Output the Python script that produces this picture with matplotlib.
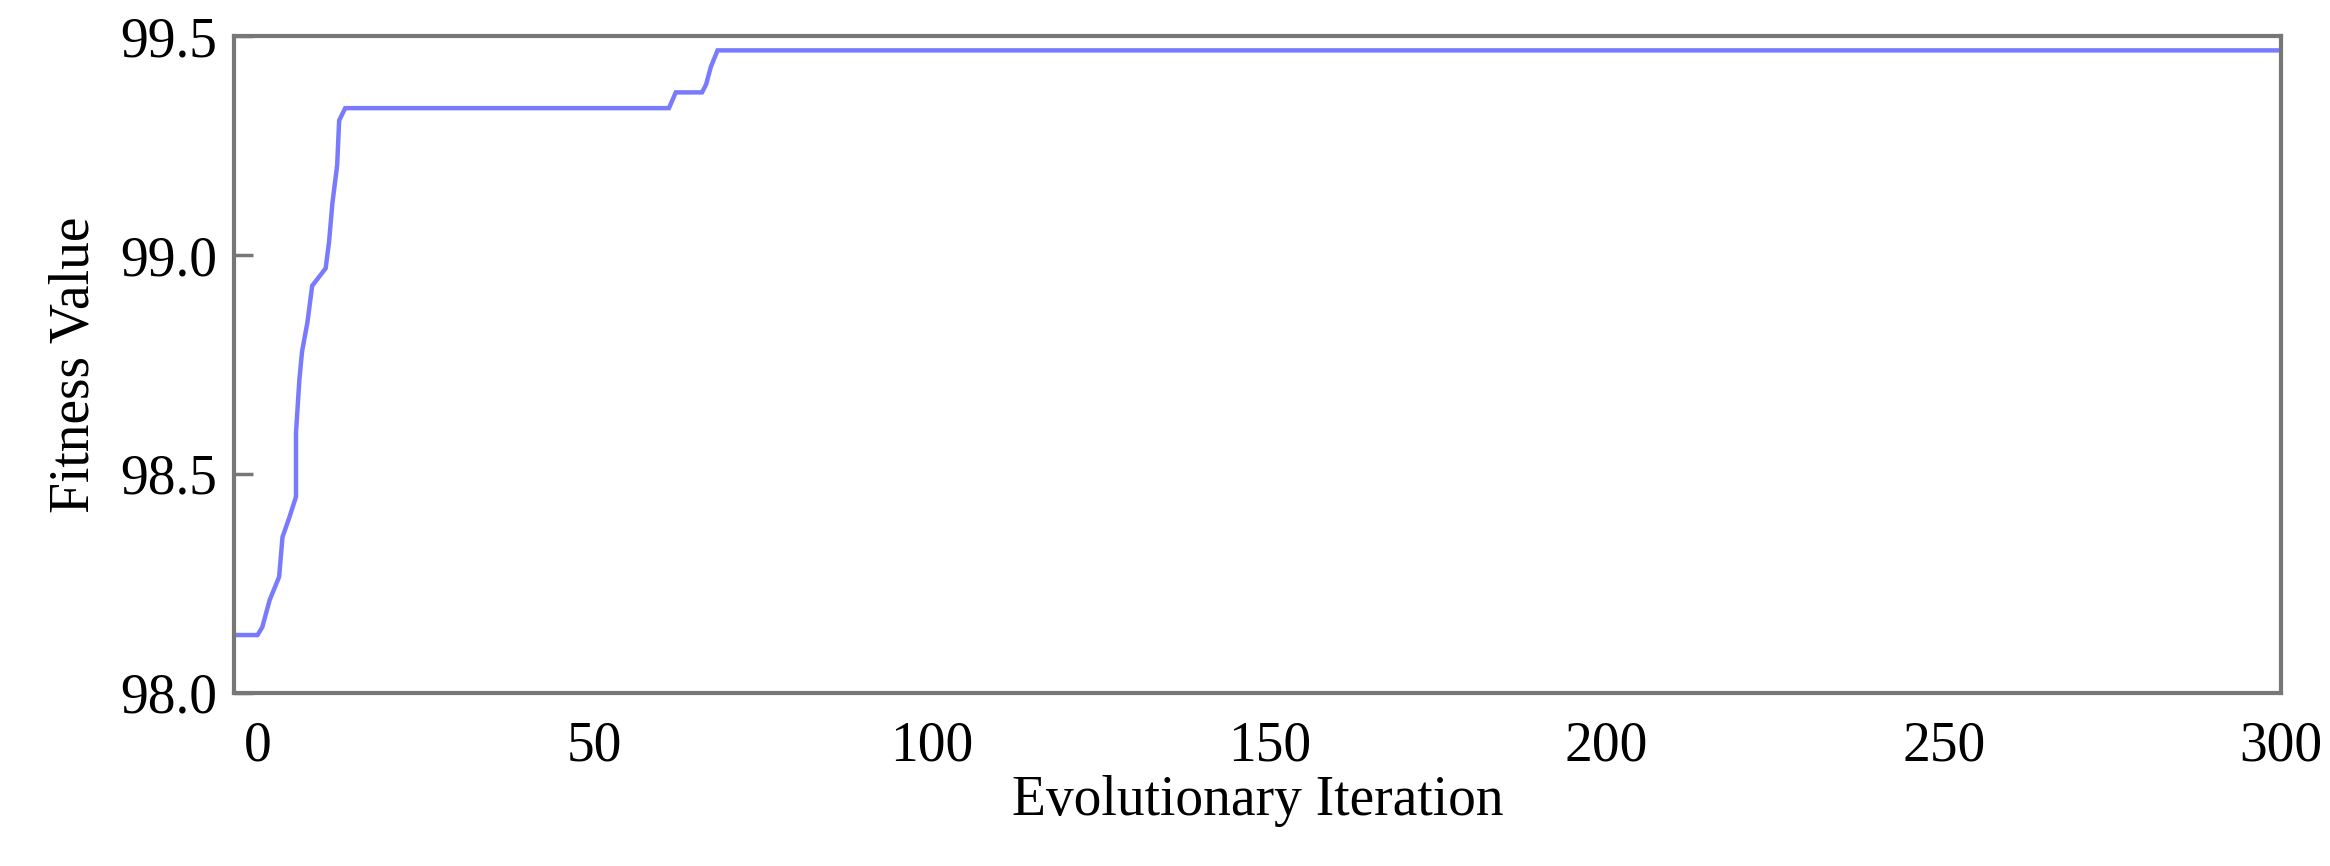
import matplotlib
matplotlib.use("Agg")
import matplotlib.pyplot as plt

# best fitness per iteration (step points)
iteration = [-3.5, 0.0, 0.7, 1.8, 3.2, 3.7, 4.7, 5.7, 5.7, 6.2, 6.6, 7.4, 8.1,
             10.1, 10.6, 11.1, 11.8, 12.1, 13.0, 61.0, 62.0, 65.9, 66.5, 67.2,
             68.2, 300.0]
fitness = [98.132, 98.132, 98.15, 98.212, 98.265, 98.356, 98.40, 98.448, 98.594,
           98.715, 98.78, 98.847, 98.93, 98.97, 99.03, 99.119, 99.205, 99.308,
           99.336, 99.336, 99.372, 99.372, 99.39, 99.43, 99.468, 99.468]

x_ticks = [0, 50, 100, 150, 200, 250, 300]
y_ticks = [98.0, 98.5, 99.0, 99.5]

plt.rcParams["font.family"] = ["Liberation Serif", "DejaVu Serif"]

fig = plt.figure(figsize=(23.3, 8.66), dpi=100)
ax = fig.add_axes([0.1004, 0.2, 0.8786, 0.758])

ax.plot(iteration, fitness, color="#7a7aff", lw=3.2, solid_joinstyle="miter")

ax.set_xlim(-3.5, 300)
ax.set_ylim(98.0, 99.5)
ax.set_xticks(x_ticks)
ax.set_yticks(y_ticks)
ax.set_yticklabels([f"{v:.1f}" for v in y_ticks])

for s in ax.spines.values():
    s.set_color("#777777")
    s.set_linewidth(3)

ax.tick_params(axis="y", direction="in", length=14, width=2.5, color="#777777",
               labelsize=40, pad=12)
ax.tick_params(axis="x", direction="in", length=0, labelsize=40, pad=20)

ax.set_xlabel("Evolutionary Iteration", fontsize=40, labelpad=2)
ax.set_ylabel("Fitness Value", fontsize=40, labelpad=14)

fig.savefig("out.png", dpi=100)
